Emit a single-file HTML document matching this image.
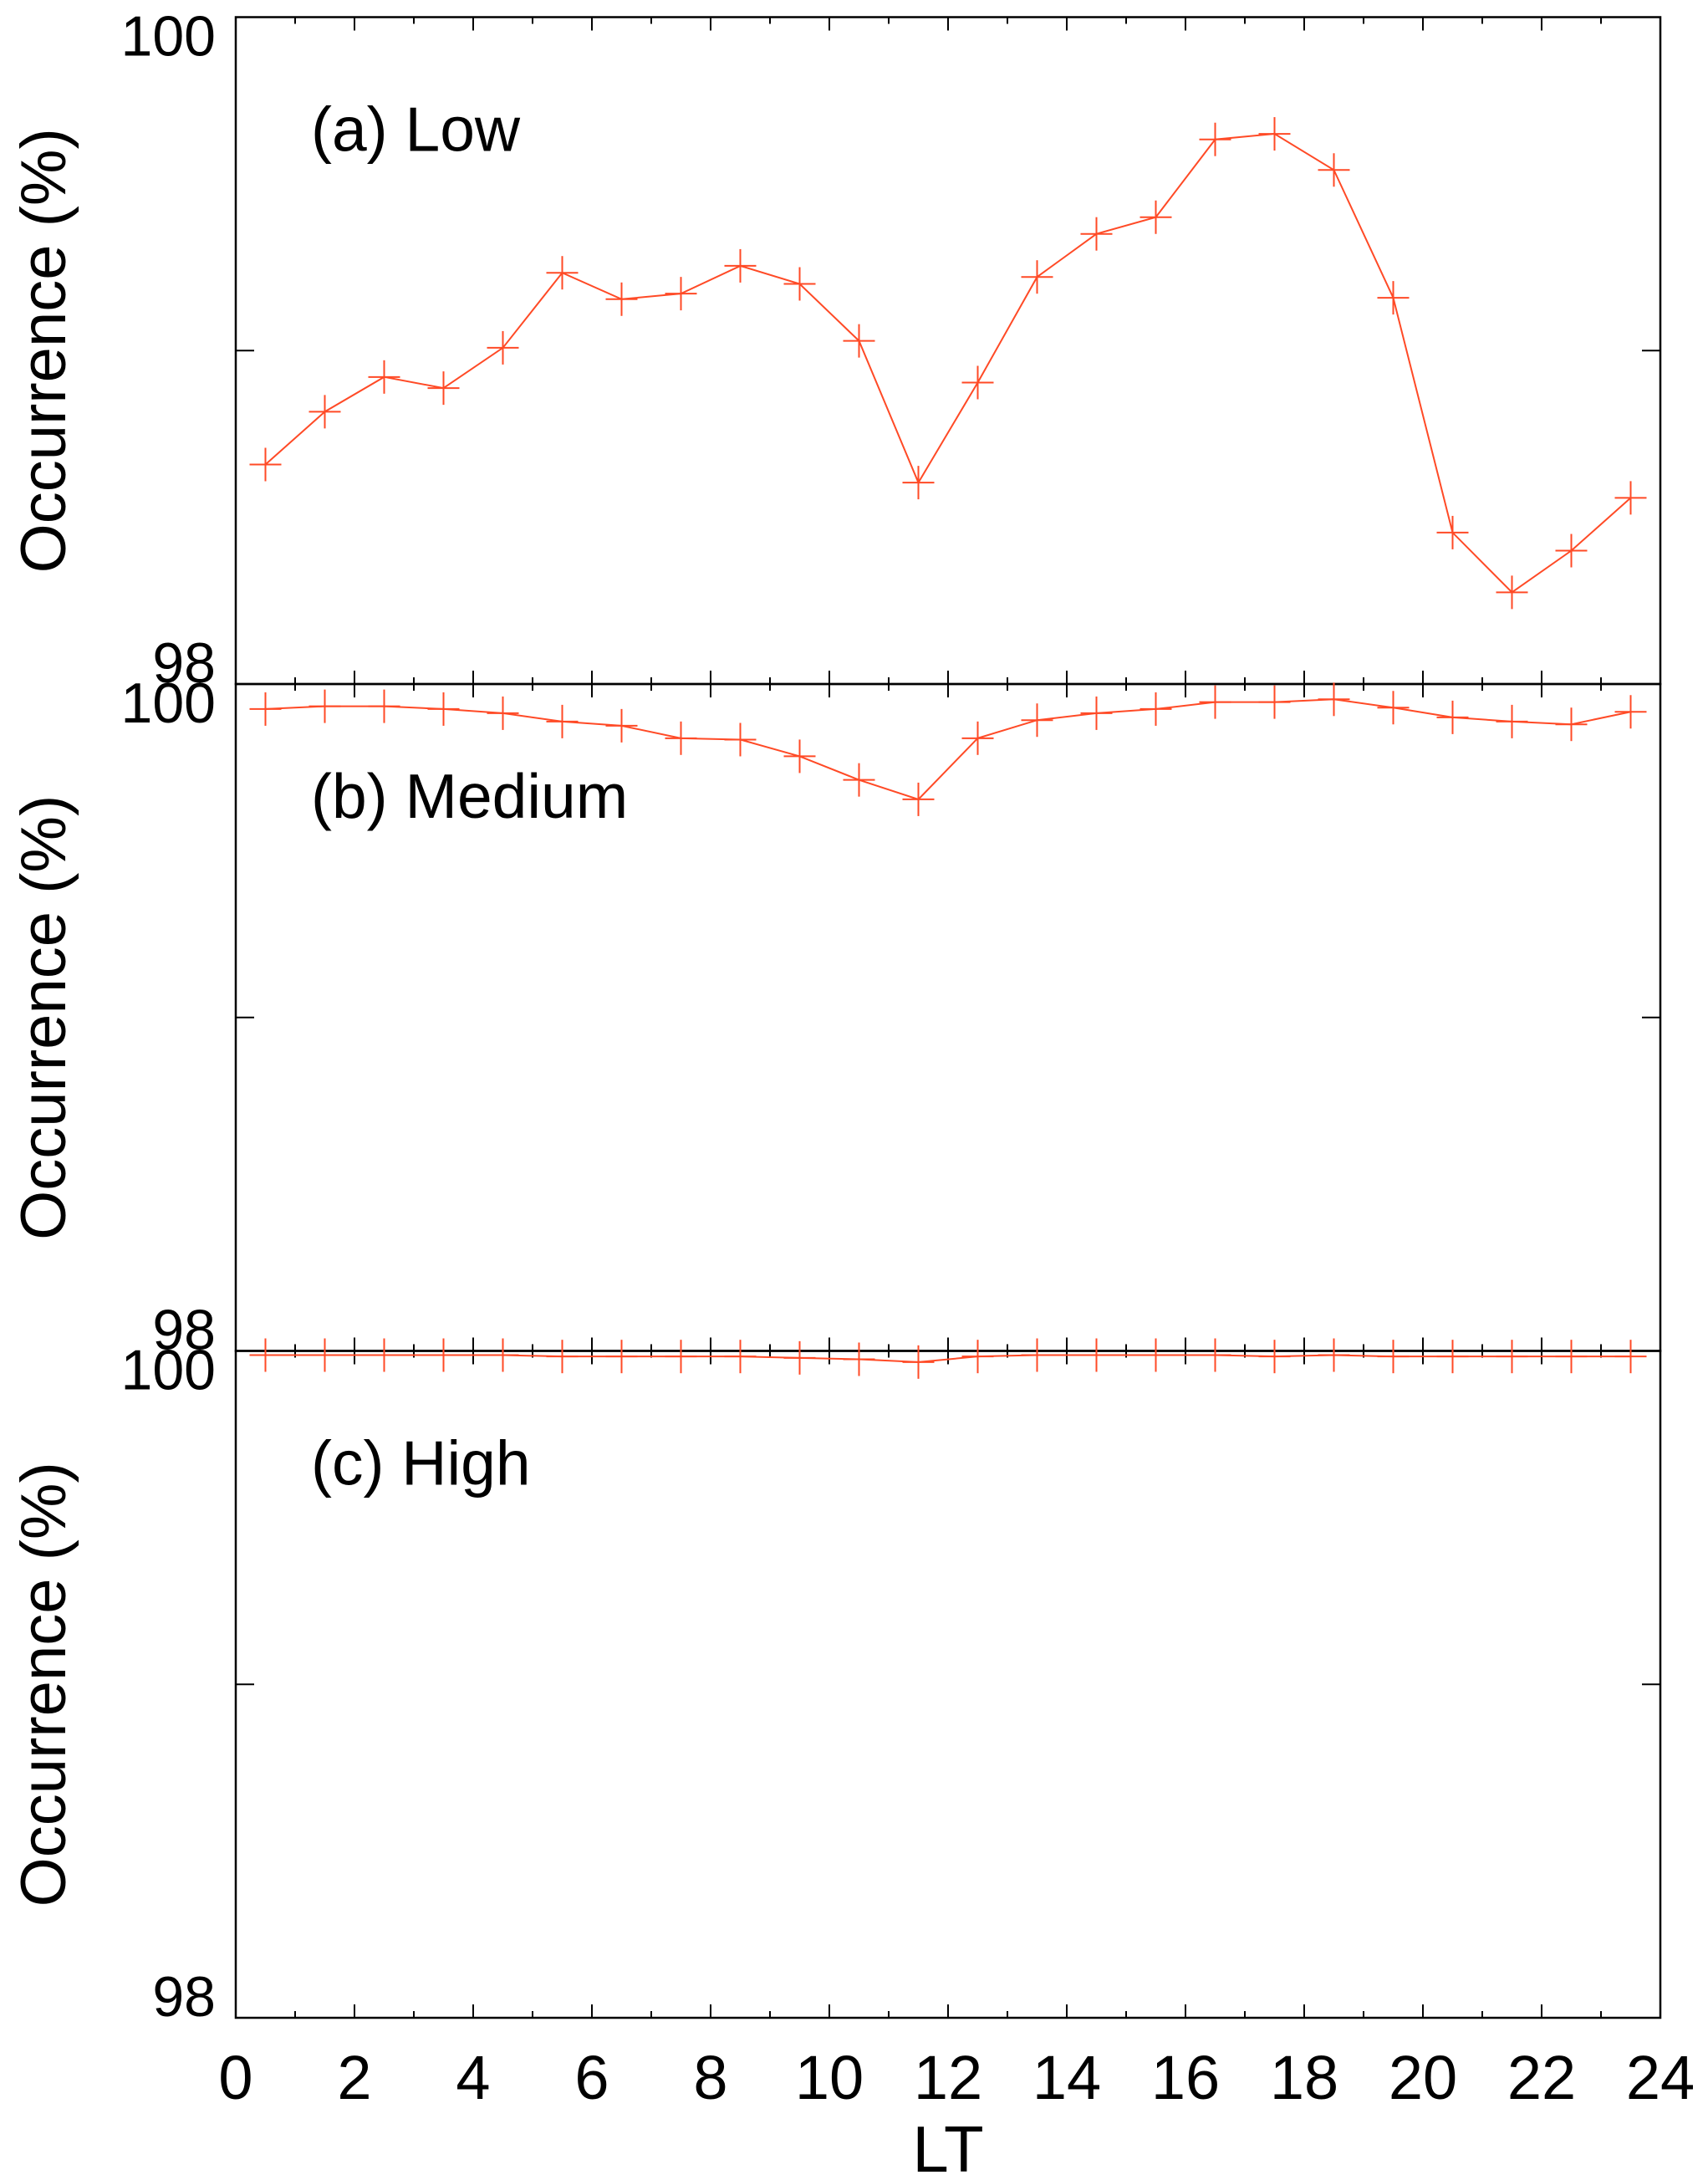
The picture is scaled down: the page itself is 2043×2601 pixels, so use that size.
<!DOCTYPE html>
<html><head><meta charset="utf-8"><style>
html,body{margin:0;padding:0;background:#fff;}
svg{display:block;font-family:"Liberation Sans",Arial,sans-serif;}
</style></head><body>
<svg id="s" xmlns="http://www.w3.org/2000/svg" width="2043" height="2601" viewBox="0 0 2043 2601"></svg>
<script>
const s=document.getElementById('s');
const NS='http://www.w3.org/2000/svg';
function el(t,a,txt){const e=document.createElementNS(NS,t);for(const k in a)e.setAttribute(k,a[k]);if(txt!==undefined)e.textContent=txt;s.appendChild(e);return e;}
const X0=282,XS=71,XR=X0+24*XS;
const tops=[20.5,818,1615.5],H=797.5;
function Y(yd){return 20.5+(yd-13)*1.6615;}
const A=[335,297,272,280,251,197,216,212,192,205,246,348,276,200,169,157,101,97,123,215,384,427,397,359];
const B=[511,509,509,511,514,520,523,532,533,545,562,576,532,519,514,511,506,506,504,510,517,520,522,513];
const C=[976,976,976,976,976,977,977,977,977,978,979,981,977,976,976,976,976,977,976,977,977,977,977,977];
const labels=['(a) Low','(b) Medium','(c) High'];
tops.forEach((t,i)=>{
  const b=t+H;
  el('rect',{x:X0,y:t,width:XR-X0,height:H,fill:'none',stroke:'#000','stroke-width':2.5});
  for(let h=1;h<24;h++){
    const x=X0+h*XS,L=(h%2==0)?16:8;
    el('line',{x1:x,y1:b-L,x2:x,y2:b+(i<2?L:0),stroke:'#000','stroke-width':2});
    if(i==0) el('line',{x1:x,y1:t,x2:x,y2:t+L,stroke:'#000','stroke-width':2});
  }
  const m=t+H/2;
  el('line',{x1:X0,y1:m,x2:X0+22,y2:m,stroke:'#000','stroke-width':2});
  el('line',{x1:XR-22,y1:m,x2:XR,y2:m,stroke:'#000','stroke-width':2});
  el('text',{x:258,y:t+46,'font-size':68,'text-anchor':'end'},'100');
  el('text',{x:258,y:b-2,'font-size':68,'text-anchor':'end'},'98');
  el('text',{x:0,y:0,'font-size':76,'text-anchor':'middle',transform:`translate(78,${m}) rotate(-90)`},'Occurrence (%)');
  el('text',{x:372,y:t+160,'font-size':75},labels[i]);
});
[A,B,C].forEach(d=>{
  const pts=d.map((v,k)=>[X0+(k+0.5)*XS,Y(v)]);
  el('polyline',{points:pts.map(p=>p.join(',')).join(' '),fill:'none',stroke:'#ff4a26','stroke-width':2});
  pts.forEach(p=>{
    el('line',{x1:p[0]-19,y1:p[1],x2:p[0]+19,y2:p[1],stroke:'#ff4a26','stroke-width':2});
    el('line',{x1:p[0],y1:p[1]-20,x2:p[0],y2:p[1]+20,stroke:'#ff4a26','stroke-width':2});
  });
});
for(let h=0;h<=24;h+=2){
  el('text',{x:X0+h*XS,y:2510,'font-size':74,'text-anchor':'middle'},String(h));
}
el('text',{x:X0+12*XS,y:2597,'font-size':78,'text-anchor':'middle'},'LT');
</script>
</body></html>
